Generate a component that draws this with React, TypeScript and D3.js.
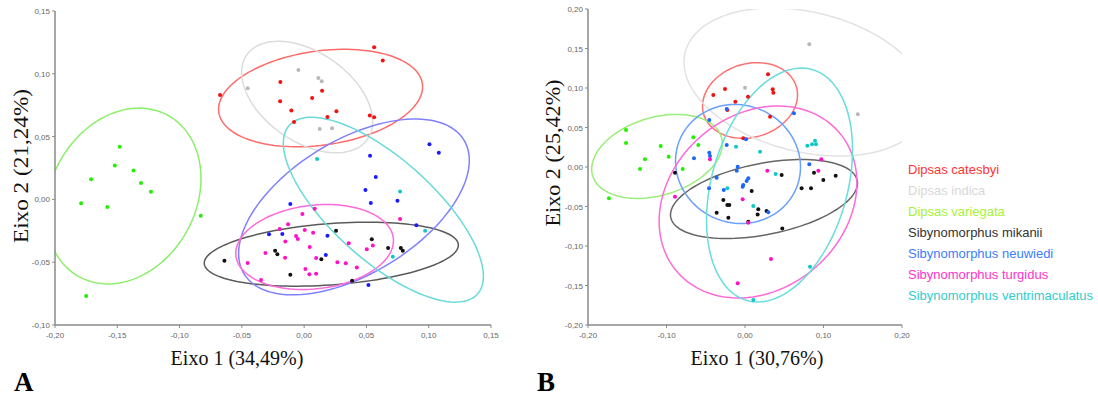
import React from "react";
import * as d3 from "d3";

// ---------- DATA ----------
const species = [
  "Dipsas catesbyi",
  "Dipsas indica",
  "Dipsas variegata",
  "Sibynomorphus mikanii",
  "Sibynomorphus neuwiedi",
  "Sibynomorphus turgidus",
  "Sibynomorphus ventrimaculatus",
];

const panelLabels = ["A", "B"];
const xTitles = ["Eixo 1 (34,49%)", "Eixo 1 (30,76%)"];
const yTitles = ["Eixo 2 (21,24%)", "Eixo 2 (25,42%)"];

const xTicksA = [-0.2, -0.15, -0.1, -0.05, 0, 0.05, 0.1, 0.15];
const yTicksA = [-0.1, -0.05, 0, 0.05, 0.1, 0.15];
const xTicksB = [-0.2, -0.1, 0, 0.1, 0.2];
const yTicksB = [-0.2, -0.15, -0.1, -0.05, 0, 0.05, 0.1, 0.15, 0.2];

type P = [number, number];

// Panel A points
const catesbyiA: P[] = [[0.0562,0.1211],[0.0631,0.1105],[-0.0191,0.0935],[0.0144,0.0866],[0.0064,0.0808],[-0.0193,0.0782],[-0.0103,0.0707],[0.0259,0.0702],[0.0187,0.0656],[0.0527,0.0667],[0.0562,0.0654],[-0.0081,0.0616],[-0.0675,0.0831]];
const indicaA: P[] = [[-0.0046,0.103],[0.0114,0.0967],[0.0141,0.094],[-0.0453,0.0885],[0.0125,0.0561],[0.0224,0.0566]];
const variegataA: P[] = [[-0.148,0.042],[-0.152,0.027],[-0.137,0.023],[-0.171,0.016],[-0.131,0.013],[-0.123,0.006],[-0.179,-0.003],[-0.158,-0.006],[-0.083,-0.013],[-0.175,-0.077]];
const mikaniiA: P[] = [[0.0256,-0.0249],[0.0543,-0.0317],[0.0674,-0.0387],[0.0776,-0.0387],[0.0792,-0.0408],[-0.0233,-0.0408],[-0.0215,-0.0437],[0.0138,-0.0476],[-0.0111,-0.0599],[0.0385,-0.0647],[-0.064,-0.0488]];
const neuwiediA: P[] = [[0.1006,0.0439],[0.1081,0.0372],[0.0529,0.0348],[0.0575,0.0179],[0.0492,0.0075],[0.0749,-0.001],[0.0535,-0.0028],[-0.0111,-0.0036],[0.0901,-0.0206],[-0.0282,-0.0277],[-0.0175,-0.0275],[0.0187,-0.0289],[0.0174,-0.0442],[0.0516,-0.0681]];
const turgidusA: P[] = [[0.0085,-0.0074],[-0.0014,-0.0116],[0.077,-0.0156],[-0.0129,-0.0198],[-0.0196,-0.0235],[0.0005,-0.0243],[0.0072,-0.0265],[-0.0065,-0.0291],[-0.0051,-0.0315],[-0.0151,-0.0336],[0.0358,-0.0349],[0.0551,-0.0368],[0.0503,-0.0397],[-0.0311,-0.0426],[0.0045,-0.0379],[-0.0153,-0.0464],[0.0096,-0.0466],[0.0267,-0.05],[0.0334,-0.0508],[-0.0453,-0.0506],[0.0423,-0.0543],[0.001,-0.0554],[0.0042,-0.0596],[0.0096,-0.0591],[-0.0346,-0.0641]];
const ventriA: P[] = [[0.0104,0.0322],[0.077,0.0062],[0.0971,-0.0249],[0.0712,-0.0456]];

// Panel A ellipses: [cx, cy, half-width, half-height, k]
const ellipsesA: number[][] = [
  [0.0132, 0.0807, 0.0819, 0.0388, 0.23],
  [0.0024, 0.0815, 0.0526, 0.0444, -0.44],
  [-0.145, 0.0027, 0.0622, 0.07, 0.2],
  [0.0218, -0.0436, 0.102, 0.0255, 0.28],
  [0.04, -0.006, 0.0926, 0.07, 0.53],
  [0.0084, -0.0379, 0.0633, 0.0338, 0.15],
  [0.0636, -0.0082, 0.0803, 0.0736, -0.72],
];

// Panel B points
const catesbyiB: P[] = [[-0.0404,0.0911],[-0.0255,0.0987],[-0.0123,0.0826],[-0.0225,0.0721],[0.0293,0.1173],[0.0353,0.0983],[0.0361,0.094],[0.0038,0.089],[0.0319,0.0637],[-0.0022,0.0363]];
const indicaB: P[] = [[0.0819,0.1553],[0.0,0.1004],[0.1436,0.0667]];
const variegataB: P[] = [[-0.1516,0.0468],[-0.1516,0.0304],[-0.1074,0.0266],[-0.0658,0.0376],[-0.0595,0.0278],[-0.0972,0.013],[-0.1274,0.0097],[-0.1337,-0.0026],[-0.0794,-0.0026],[-0.1733,-0.0397]];
const mikaniiB: P[] = [[-0.0892,-0.0072],[0.0467,-0.0102],[0.0879,-0.0072],[0.0998,-0.0165],[0.1155,-0.011],[0.0721,-0.027],[0.0841,-0.027],[0.0085,-0.0304],[-0.0276,-0.0418],[-0.0225,-0.0481],[-0.02,-0.0481],[-0.0212,-0.0642],[0.0169,-0.0536],[0.0161,-0.06],[0.0275,-0.0557],[0.0042,-0.0693],[0.0475,-0.0777],[-0.0361,-0.0579]];
const neuwiediB: P[] = [[-0.0233,0.0734],[-0.0455,0.0595],[-0.0455,0.0181],[-0.0446,0.0139],[-0.065,0.011],[-0.0233,0.0278],[-0.0093,0.0004],[-0.0361,-0.0136],[-0.0458,-0.027],[-0.0271,-0.0291],[0.0013,0.035],[0.0624,0.068],[-0.0105,-0.0047],[0.0819,0.0034],[0.0042,-0.0143],[0.0021,-0.0178],[-0.0022,-0.0228],[-0.003,-0.025],[0.0297,-0.0574]];
const turgidusB: P[] = [[-0.0446,0.0097],[0.0972,0.0097],[0.0284,-0.0047],[0.0934,-0.0047],[-0.003,-0.0409],[0.0042,-0.0705],[0.0331,-0.1165],[-0.0093,-0.1473],[-0.0892,-0.0376]];
const ventriB: P[] = [[-0.0114,0.0257],[0.0192,0.0193],[0.0794,0.0269],[0.0854,0.0287],[0.0892,0.0333],[0.0905,0.0287],[0.039,-0.0089],[-0.0225,-0.027],[0.0106,-0.0494],[0.0828,-0.1262],[0.0106,-0.1684]];

const ellipsesB: number[][] = [
  [0.0064, 0.0842, 0.0605, 0.0479, 0.15],
  [0.0777, 0.1076, 0.1554, 0.0937, -0.27],
  [-0.1121, 0.0134, 0.0832, 0.0532, 0.3],
  [0.0242, -0.0405, 0.1191, 0.05, 0.4],
  [-0.0089, 0.0038, 0.0796, 0.0753, -0.05],
  [0.0166, -0.0443, 0.126, 0.1215, 0.2],
  [0.044, -0.0228, 0.093, 0.148, 0.3],
];

const pointsA = [catesbyiA, indicaA, variegataA, mikaniiA, neuwiediA, turgidusA, ventriA];
const pointsB = [catesbyiB, indicaB, variegataB, mikaniiB, neuwiediB, turgidusB, ventriB];

// ---------- STYLE ----------
const ptColorsA = ["#f41010", "#b8b8b8", "#22f000", "#111111", "#1a1aff", "#ff10c8", "#10c8c8"];
const elColorsA = ["#ff6a6a", "#dcdcdc", "#8cef6c", "#5a5a5a", "#8080ff", "#ff6ad8", "#6ad9d9"];
const ptColorsB = ["#f41010", "#b8b8b8", "#22f000", "#111111", "#1a66ff", "#ff10c8", "#10c8c8"];
const elColorsB = ["#ff7070", "#e2e2e2", "#99ee77", "#666666", "#6aa0ff", "#ff6ad8", "#6adcdc"];
const legendColors = ["#ff3333", "#d8d8d8", "#a6f23a", "#333333", "#3d7dff", "#ff33cc", "#33cccc"];

const fmt = (v: number) => (v < 0 ? "-" : "") + Math.abs(v).toFixed(2).replace(".", ",");

function ellipsePath(e: number[], x: d3.ScaleLinear<number, number>, y: d3.ScaleLinear<number, number>) {
  const [cx, cy, hw, hh, k] = e;
  const s = Math.sqrt(1 - k * k);
  const pts: [number, number][] = d3.range(0, 120).map((i) => {
    const t = (i / 120) * Math.PI * 2;
    return [x(cx + hw * Math.cos(t)), y(cy + hh * (k * Math.cos(t) + s * Math.sin(t)))];
  });
  return d3.line().curve(d3.curveLinearClosed)(pts) || "";
}

type PanelProps = {
  id: string;
  xDomain: [number, number];
  xRange: [number, number];
  yDomain: [number, number];
  yRange: [number, number];
  xTicks: number[];
  yTicks: number[];
  points: P[][];
  ellipses: number[][];
  ptColors: string[];
  elColors: string[];
  xTitle: string;
  yTitle: string;
  xTitleX: number;
  yTitleX: number;
  yTitleY: number;
  yTitleLen: number;
  label: string;
  labelX: number;
};

function Panel(p: PanelProps) {
  const x = d3.scaleLinear().domain(p.xDomain).range(p.xRange);
  const y = d3.scaleLinear().domain(p.yDomain).range(p.yRange);
  const [x0, x1] = p.xRange;
  const [yb, yt] = p.yRange;
  const axisColor = "#8a8a8a";
  return (
    <g>
      <defs>
        <clipPath id={p.id}>
          <rect x={x0} y={yt} width={x1 - x0} height={yb - yt} />
        </clipPath>
      </defs>
      <g clipPath={`url(#${p.id})`}>
        {p.ellipses.map((e, i) => (
          <path key={i} d={ellipsePath(e, x, y)} fill="none" stroke={p.elColors[i]} strokeWidth={1.5} />
        ))}
      </g>
      {p.points.map((arr, i) =>
        arr.map((d, j) => (
          <circle key={`${i}-${j}`} cx={x(d[0])} cy={y(d[1])} r={2} fill={p.ptColors[i]} />
        ))
      )}
      {/* axes */}
      <line x1={x0} x2={x1} y1={yb} y2={yb} stroke={axisColor} strokeWidth={1.5} />
      <line x1={x0} x2={x0} y1={yt} y2={yb} stroke={axisColor} strokeWidth={1.5} />
      {p.xTicks.map((t, i) => (
        <g key={`xt${i}`}>
          <line x1={x(t)} x2={x(t)} y1={yb} y2={yb + 3} stroke={axisColor} strokeWidth={1} />
          <text x={x(t)} y={yb + 13} fontSize={8} fill="#666" textAnchor="middle" fontFamily="Arial, 'Liberation Sans', sans-serif">
            {fmt(t)}
          </text>
        </g>
      ))}
      {p.yTicks.map((t, i) => (
        <g key={`yt${i}`}>
          <line x1={x0 - 3} x2={x0} y1={y(t)} y2={y(t)} stroke={axisColor} strokeWidth={1} />
          <text x={x0 - 5} y={y(t) + 3} fontSize={8} fill="#666" textAnchor="end" fontFamily="Arial, 'Liberation Sans', sans-serif">
            {fmt(t)}
          </text>
        </g>
      ))}
      <text x={p.xTitleX} y={365} fontSize={20} textAnchor="middle" fontFamily="'Liberation Serif', 'Times New Roman', serif" fill="#111">
        {p.xTitle}
      </text>
      <text
        transform={`translate(${p.yTitleX},${p.yTitleY}) rotate(-90)`}
        fontSize={21}
        textAnchor="middle"
        textLength={p.yTitleLen}
        lengthAdjust="spacingAndGlyphs"
        fontFamily="'Liberation Serif', 'Times New Roman', serif"
        fill="#111"
      >
        {p.yTitle}
      </text>
      <text x={p.labelX} y={391} fontSize={27} fontWeight="bold" fontFamily="'Liberation Serif', 'Times New Roman', serif" fill="#000">
        {p.label}
      </text>
    </g>
  );
}

export default function App() {
  return (
    <svg
      width={1098}
      height={396}
      style={{ position: "absolute", left: 0, top: 0, background: "#fff" }}
    >
      <rect width={1098} height={396} fill="#fff" />
      <Panel
        id="clipA"
        xDomain={[-0.2, 0.15]}
        xRange={[55, 491]}
        yDomain={[-0.1, 0.15]}
        yRange={[325, 11]}
        xTicks={xTicksA}
        yTicks={yTicksA}
        points={pointsA}
        ellipses={ellipsesA}
        ptColors={ptColorsA}
        elColors={elColorsA}
        xTitle={xTitles[0]}
        yTitle={yTitles[0]}
        xTitleX={237}
        yTitleX={28}
        yTitleY={166}
        yTitleLen={154}
        label={panelLabels[0]}
        labelX={14}
      />
      <Panel
        id="clipB"
        xDomain={[-0.2, 0.2]}
        xRange={[588, 902]}
        yDomain={[-0.2, 0.2]}
        yRange={[325, 9]}
        xTicks={xTicksB}
        yTicks={yTicksB}
        points={pointsB}
        ellipses={ellipsesB}
        ptColors={ptColorsB}
        elColors={elColorsB}
        xTitle={xTitles[1]}
        yTitle={yTitles[1]}
        xTitleX={757}
        yTitleX={560}
        yTitleY={153}
        yTitleLen={147}
        label={panelLabels[1]}
        labelX={537}
      />
      {species.map((s, i) => (
        <text
          key={s}
          x={908}
          y={173.5 + i * 21}
          fontSize={13}
          fill={legendColors[i]}
          fontFamily="Arial, 'Liberation Sans', sans-serif"
        >
          {s}
        </text>
      ))}
    </svg>
  );
}
